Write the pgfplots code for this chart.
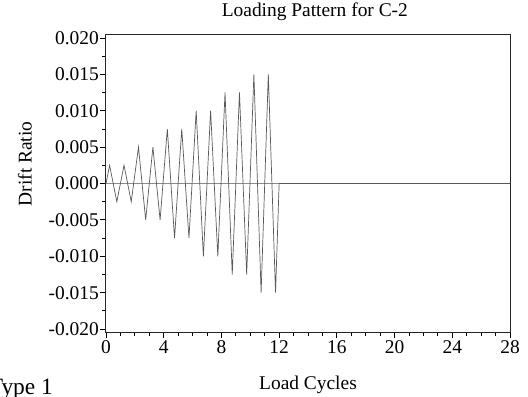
\documentclass[border=0pt]{standalone}
\usepackage{pgfplots}
\pgfplotsset{compat=1.18}
\usepackage{fontspec}
\setmainfont{Liberation Serif}
\begin{document}
\begin{tikzpicture}
\begin{axis}[
  name=ax, scale only axis, width=404bp, height=297bp,
  xmin=0, xmax=28, ymin=-0.0204, ymax=0.0204,
  clip=false, scaled y ticks=false, scaled x ticks=false,
  xtick={0,4,8,12,16,20,24,28},
  xticklabels={0,4,8,12,16,20,24,28},
  ytick={-0.02,-0.015,-0.01,-0.005,0,0.005,0.01,0.015,0.02},
  yticklabels={-0.020,-0.015,-0.010,-0.005,0.000,0.005,0.010,0.015,0.020},
  minor x tick num=3, minor y tick num=1,
  tick pos=left, tick align=outside,
  major tick length=6bp, minor tick length=3.5bp,
  every tick/.style={black, line width=0.8bp},
  axis line style={line width=1bp, black!85},
  tick label style={font=\fontsize{19.5}{22}\selectfont},
  yticklabel style={inner sep=1bp},
  xticklabel style={inner sep=2.5bp},
  title={Loading Pattern for C-2},
  title style={at={(axis description cs:0.517,1.042)}, anchor=base, font=\fontsize{19.5}{22}\selectfont},
  xlabel={Load Cycles},
  xlabel style={at={(axis description cs:0.5,-0.192)}, anchor=base, font=\fontsize{19.5}{22}\selectfont},
  ylabel={Drift Ratio},
  ylabel style={at={(axis description cs:-0.2005,0.5657)}, anchor=center, font=\fontsize{19.5}{22}\selectfont},
]
\addplot[black!45, line width=1.2bp] coordinates {(0,0) (28,0)};
\addplot[black!65, line width=0.7bp] coordinates {
(0,0) (0.25,0.0025) (0.75,-0.0025) (1.25,0.0025) (1.75,-0.0025)
(2.25,0.005) (2.75,-0.005) (3.25,0.005) (3.75,-0.005)
(4.25,0.0075) (4.75,-0.0075) (5.25,0.0075) (5.75,-0.0075)
(6.25,0.01) (6.75,-0.01) (7.25,0.01) (7.75,-0.01)
(8.25,0.0125) (8.75,-0.0125) (9.25,0.0125) (9.75,-0.0125)
(10.25,0.015) (10.75,-0.015) (11.25,0.015) (11.75,-0.015)
(12,0) (28,0)};
\node[anchor=base east, font=\fontsize{23.5}{26}\selectfont, inner sep=0pt] at (axis description cs:-0.131,-0.209) {Type 1};
\coordinate (bl) at (rel axis cs:0,0);
\end{axis}
\pgfresetboundingbox
\useasboundingbox ([shift={(-106bp,-65bp)}]bl) rectangle ([shift={(422bp,332bp)}]bl);
\end{tikzpicture}
\end{document}
